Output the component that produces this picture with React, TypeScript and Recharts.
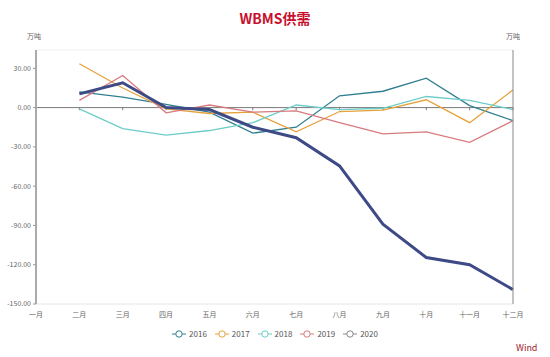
import React from "react";
import { LineChart, Line, XAxis, YAxis, CartesianGrid, ReferenceLine, Legend } from "recharts";

const months = ["一月", "二月", "三月", "四月", "五月", "六月", "七月", "八月", "九月", "十月", "十一月", "十二月"];
const s2016 = [null, 12, 8, 2.5, -3.5, -19.5, -15, 9, 12.5, 22.5, 1.5, -10];
const s2017 = [null, 33.5, 15, -1, -4.5, -3.5, -18.5, -3, -2, 6, -11.5, 13.5];
const s2018 = [null, -1, -16, -21, -17.5, -11.5, 2, -1.5, -0.5, 8.5, 5.5, -1.5];
const s2019 = [null, 5.5, 24.5, -4, 2, -3.5, -2.5, -11.5, -20, -18.5, -26.5, -10];
const s2020 = [null, 10.5, 19, 0, -1.5, -15, -23, -44.5, -89, -114.5, -120, -139];
const yTicks = [-150, -120, -90, -60, -30, 0, 30];

const data = months.map((m, i) => ({
  month: m,
  y2016: s2016[i],
  y2017: s2017[i],
  y2018: s2018[i],
  y2019: s2019[i],
  y2020: s2020[i],
}));

const series = [
  { key: "y2016", name: "2016", color: "#2f7f90", legend: "#2f7f90", width: 1.3 },
  { key: "y2017", name: "2017", color: "#e6a13a", legend: "#e6a13a", width: 1.3 },
  { key: "y2018", name: "2018", color: "#6ccdc8", legend: "#6ccdc8", width: 1.3 },
  { key: "y2019", name: "2019", color: "#d87a7e", legend: "#d87a7e", width: 1.3 },
  { key: "y2020", name: "2020", color: "#3d4a86", legend: "#888888", width: 3 },
];

const font = "'Noto Sans CJK SC', 'Noto Sans', sans-serif";

const LegendContent = () => (
  <div style={{ display: "flex", justifyContent: "center", gap: 8, paddingTop: 4, fontFamily: font, fontSize: 8, color: "#555" }}>
    {series.map((s) => (
      <div key={s.key} style={{ display: "flex", alignItems: "center", gap: 3 }}>
        <svg width={14} height={8}>
          <line x1={0} y1={4} x2={14} y2={4} stroke={s.legend} strokeWidth={1} />
          <circle cx={7} cy={4} r={3.2} fill="#fff" stroke={s.legend} strokeWidth={1} />
        </svg>
        <span>{s.name}</span>
      </div>
    ))}
  </div>
);

export default function App() {
  return (
    <div style={{ position: "relative", width: 550, height: 357, background: "#fff", fontFamily: font }}>
      <style>{"body{margin:0}"}</style>
      <div style={{ position: "absolute", top: 8, left: 0, width: 550, textAlign: "center", color: "#c8102e", fontWeight: 700, fontSize: 14 }}>
        WBMS供需
      </div>
      <div style={{ position: "absolute", top: 31, left: 27, fontSize: 7, color: "#666" }}>万吨</div>
      <div style={{ position: "absolute", top: 31, left: 506, fontSize: 7, color: "#666" }}>万吨</div>
      <div style={{ position: "absolute", top: 341, left: 516, fontSize: 9, color: "#a0182e" }}>Wind</div>
      <LineChart width={550} height={357} data={data} margin={{ top: 50, right: 0, left: 0, bottom: 10 }}>
        <CartesianGrid vertical={false} stroke="#eeeeee" />
        <XAxis
          dataKey="month"
          interval={0}
          height={20}
          tick={{ fontSize: 7, fill: "#666" }}
          tickLine={false}
          axisLine={{ stroke: "#eeeeee" }}
          padding={{ left: 0, right: 0 }}
        />
        <YAxis
          yAxisId="left"
          domain={[-150, 44]}
          ticks={yTicks}
          width={36}
          tickFormatter={(v: number) => v.toFixed(2)}
          tick={{ fontSize: 7, fill: "#666" }}
          tickSize={3}
          tickLine={{ stroke: "#999" }}
          axisLine={{ stroke: "#aaaaaa", strokeWidth: 2 }}
        />
        <YAxis
          yAxisId="right"
          orientation="right"
          domain={[-150, 44]}
          ticks={yTicks}
          width={37}
          tickFormatter={(v: number) => v.toFixed(2)}
          tick={{ fontSize: 7, fill: "#666" }}
          tickSize={3}
          tickLine={{ stroke: "#999" }}
          axisLine={{ stroke: "#888888" }}
        />
        <ReferenceLine yAxisId="left" y={0} stroke="#7a7a7a" strokeWidth={1} />
        {months.slice(1).map((m) => (
          <ReferenceLine
            key={m}
            yAxisId="left"
            segment={[{ x: m, y: 0 }, { x: m, y: -2 }]}
            stroke="#7a7a7a"
          />
        ))}
        {series.map((s) => (
          <Line
            key={s.key}
            yAxisId="left"
            type="linear"
            dataKey={s.key}
            name={s.name}
            stroke={s.color}
            strokeWidth={s.width}
            dot={false}
            activeDot={false}
            isAnimationActive={false}
          />
        ))}
        <Legend verticalAlign="bottom" height={23} content={<LegendContent />} />
      </LineChart>
    </div>
  );
}
